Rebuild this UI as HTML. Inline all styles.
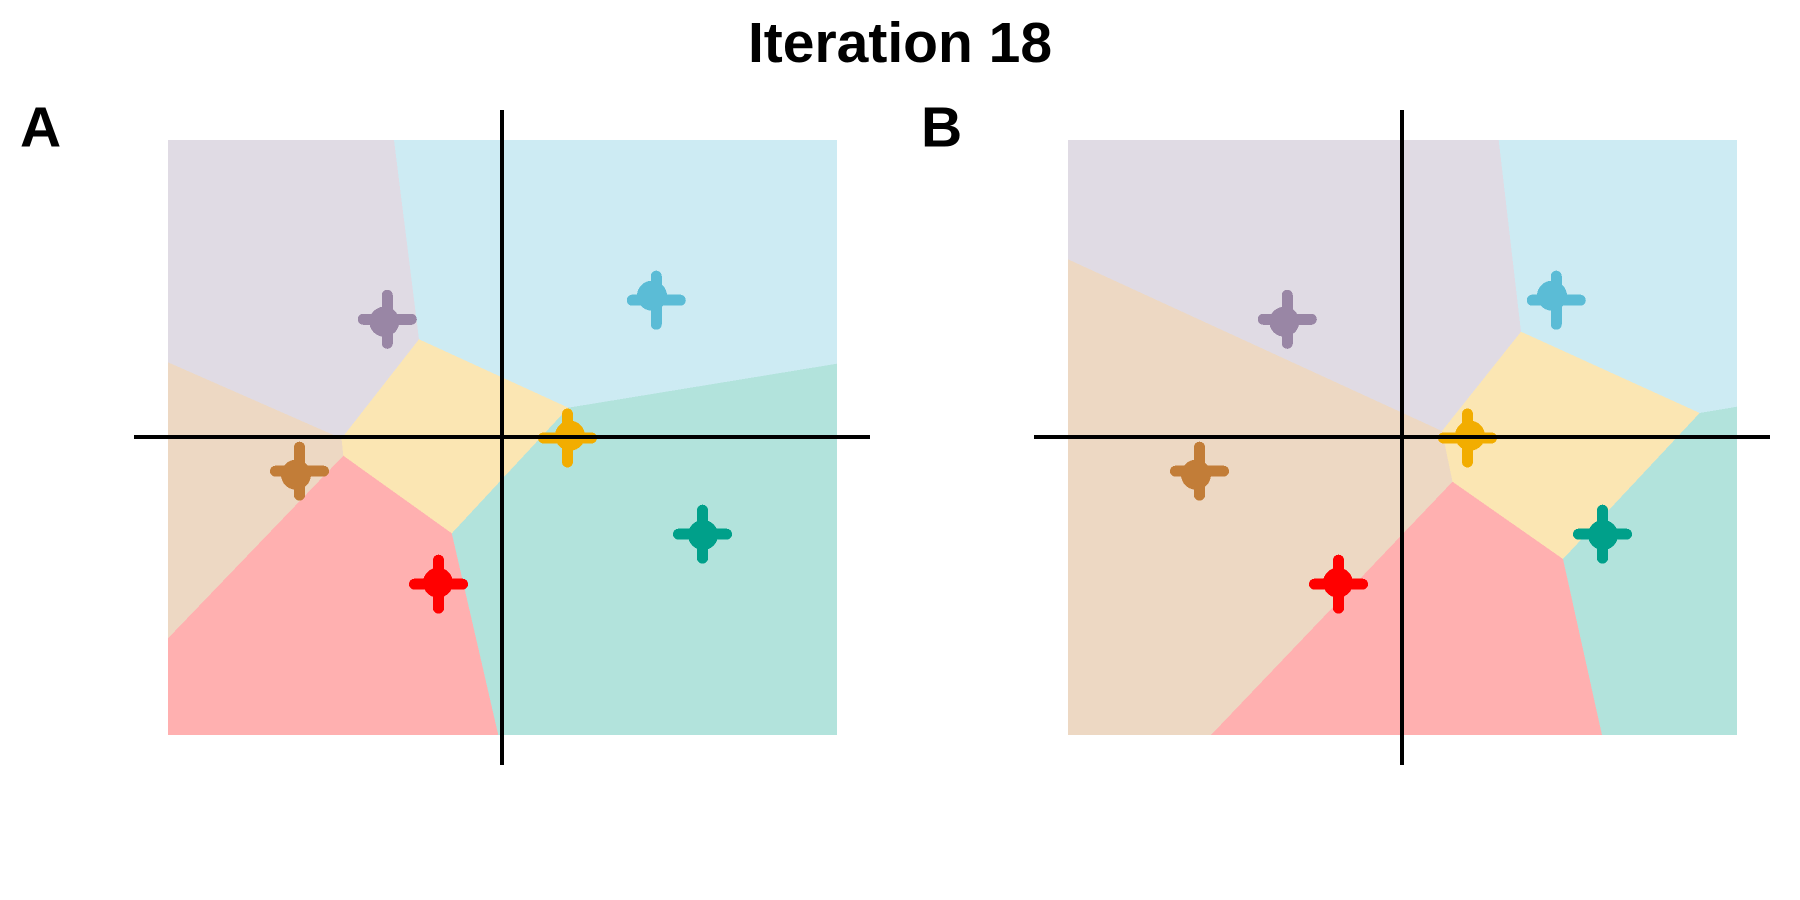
<!DOCTYPE html>
<html lang="en">
<head>
<meta charset="utf-8">
<title>Iteration 18</title>
<style>
  html, body { margin: 0; padding: 0; background: #ffffff; }
  svg { display: block; }
  text { font-family: "Liberation Sans", sans-serif; font-weight: bold; fill: #000000; }
</style>
</head>
<body>
<svg id="chart" xmlns="http://www.w3.org/2000/svg" width="1800" height="900" viewBox="0 0 1800 900">
  <text x="900" y="62" font-size="57" text-anchor="middle">Iteration 18</text>
  <text x="20" y="146.5" font-size="57">A</text>
  <text x="921" y="146.5" font-size="57">B</text>
  <g id="panel-a"></g>
  <g id="panel-b"></g>
</svg>
<script>
// Cluster names and colours
const clusters = ['purple', 'blue', 'green', 'red', 'yellow', 'brown'];
const regionColors = ['#E0DBE4', '#CDEBF3', '#B2E3DC', '#FFB0B0', '#FBE6B3', '#EDD8C3'];
const markerColors = ['#9986A5', '#5BBCD6', '#00A08A', '#FF0000', '#F2AD00', '#C27D38'];

// Cluster centroids (plus signs), data units
const centroidX = [-1.147, 1.543, 2.005, -0.635, 0.655, -2.025];
const centroidY = [1.177, 1.368, -0.972, -1.472, -0.01, -0.342];

// Previous centroid positions (filled circles), data units
const pointX = [-1.177, 1.5, 2.01, -0.64, 0.68, -2.06];
const pointY = [1.153, 1.413, -0.98, -1.457, 0.013, -0.377];

// Voronoi regions for panel A: [x, y] vertices in data units
const regionsA = [
  [[-3.34, 2.97], [-1.08, 2.97], [-0.83, 0.977], [-1.605, -0.015], [-3.34, 0.747]],
  [[-1.08, 2.97], [3.35, 2.97], [3.35, 0.733], [0.663, 0.293], [-0.83, 0.977]],
  [[0.663, 0.293], [3.35, 0.733], [3.35, -2.98], [-0.037, -2.98], [-0.502, -0.963]],
  [[-1.587, -0.187], [-0.502, -0.963], [-0.037, -2.98], [-3.34, -2.98], [-3.34, -2.013]],
  [[-0.83, 0.977], [0.663, 0.293], [-0.502, -0.963], [-1.587, -0.187], [-1.605, -0.015]],
  [[-3.34, 0.747], [-1.605, -0.015], [-1.587, -0.187], [-3.34, -2.013]]
];

// Voronoi regions for panel B: [x, y] vertices in data units
const regionsB = [
  [[-3.34, 2.97], [0.967, 2.97], [1.19, 1.053], [0.4, 0.06], [-3.34, 1.777]],
  [[0.967, 2.97], [3.35, 2.97], [3.35, 0.303], [2.977, 0.24], [1.19, 1.053]],
  [[2.977, 0.24], [3.35, 0.303], [3.35, -2.98], [2.0, -2.98], [1.61, -1.22]],
  [[0.505, -0.447], [1.61, -1.22], [2.0, -2.98], [-1.91, -2.98]],
  [[1.19, 1.053], [2.977, 0.24], [1.61, -1.22], [0.505, -0.447], [0.4, 0.06]],
  [[-3.34, 1.777], [0.4, 0.06], [0.505, -0.447], [-1.91, -2.98], [-3.34, -2.98]]
];

// Axis extents, data units
const xAxisRange = [-3.68, 3.68];
const yAxisRange = [-3.28, 3.27];

const NS = 'http://www.w3.org/2000/svg';
const PX_PER_UNIT = 100;
const Y_ZERO = 437;
const ARM = 0.24;
const ARM_WIDTH = 11;
const POINT_RADIUS = 15;

function make(tag, attrs, parent) {
  const el = document.createElementNS(NS, tag);
  for (const key in attrs) el.setAttribute(key, attrs[key]);
  parent.appendChild(el);
  return el;
}

function drawPanel(group, regions, xZero, prefix) {
  const sx = v => xZero + v * PX_PER_UNIT;
  const sy = v => Y_ZERO - v * PX_PER_UNIT;

  regions.forEach((verts, i) => {
    const poly = make('polygon', {
      points: verts.map(p => sx(p[0]) + ',' + sy(p[1])).join(' '),
      fill: regionColors[i],
      'shape-rendering': 'crispEdges'
    }, group);
    
    
  });

  clusters.forEach((name, i) => {
    const marker = make('g', { fill: markerColors[i], stroke: markerColors[i], 'shape-rendering': 'crispEdges' }, group);
    
    

    const dot = make('circle', {
      cx: sx(pointX[i]),
      cy: sy(pointY[i]),
      r: POINT_RADIUS,
      stroke: 'none'
    }, marker);
    
    

    const hArm = make('line', {
      x1: sx(centroidX[i] - ARM),
      x2: sx(centroidX[i] + ARM),
      y1: sy(centroidY[i]),
      y2: sy(centroidY[i]),
      'stroke-width': ARM_WIDTH,
      'stroke-linecap': 'round'
    }, marker);
    
    

    const vArm = make('line', {
      x1: sx(centroidX[i]),
      x2: sx(centroidX[i]),
      y1: sy(centroidY[i] - ARM),
      y2: sy(centroidY[i] + ARM),
      'stroke-width': ARM_WIDTH,
      'stroke-linecap': 'round'
    }, marker);
    
    
  });

  const xAxis = make('line', {
    x1: sx(xAxisRange[0]), x2: sx(xAxisRange[1]), y1: sy(0), y2: sy(0),
    stroke: '#000000', 'stroke-width': 4, 'shape-rendering': 'crispEdges'
  }, group);
  
  

  const yAxis = make('line', {
    x1: sx(0), x2: sx(0), y1: sy(yAxisRange[0]), y2: sy(yAxisRange[1]),
    stroke: '#000000', 'stroke-width': 4, 'shape-rendering': 'crispEdges'
  }, group);
  
  
}

drawPanel(document.getElementById('panel-a'), regionsA, 502, 'panel-a');
drawPanel(document.getElementById('panel-b'), regionsB, 1402, 'panel-b');
</script>
</body>
</html>
